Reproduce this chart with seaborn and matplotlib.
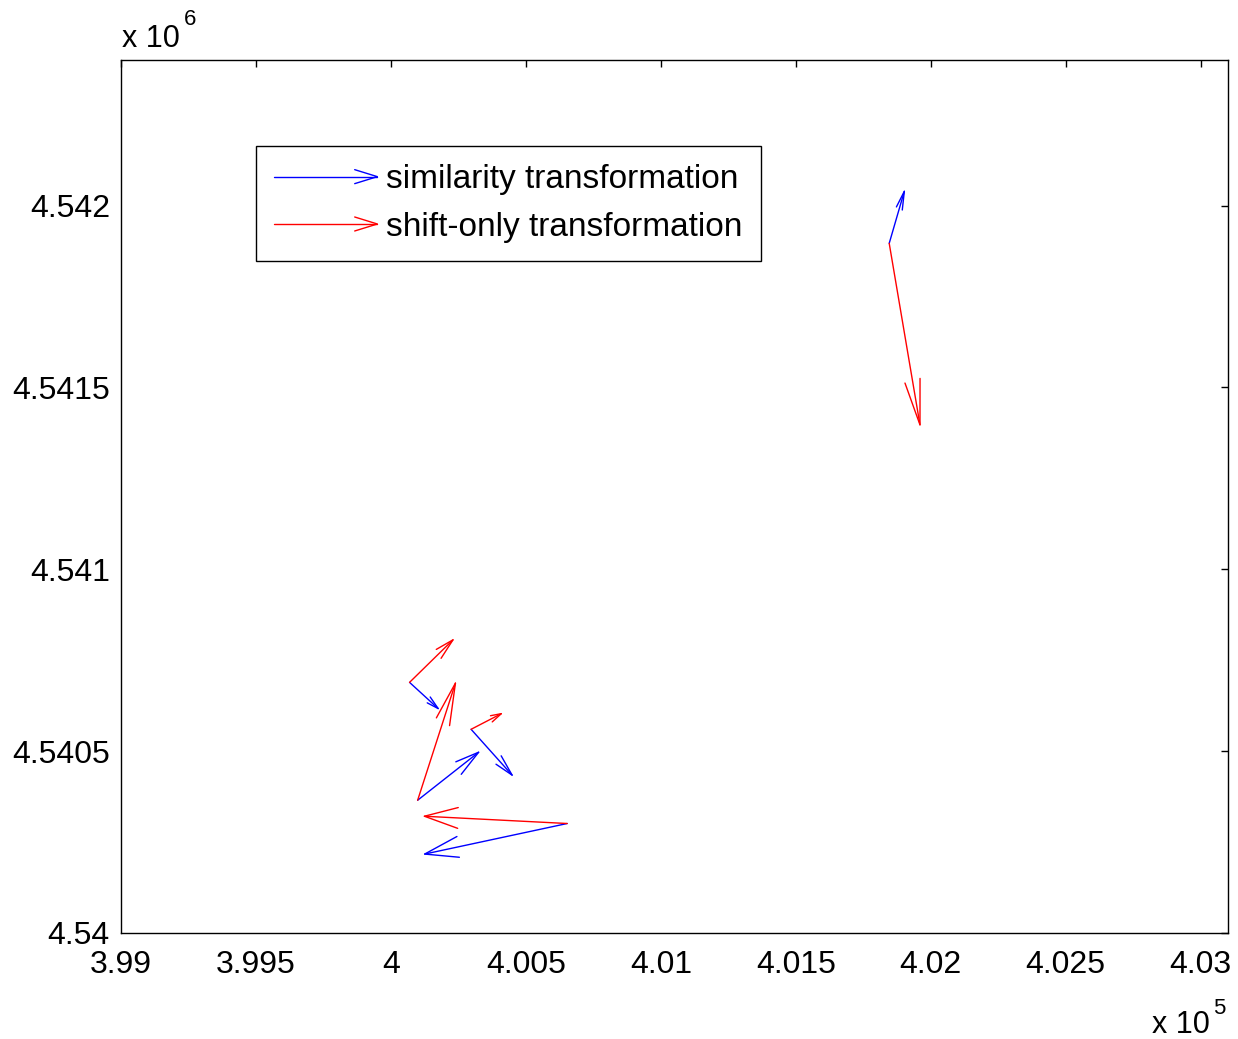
import numpy as np
import pandas as pd
import matplotlib
matplotlib.use("Agg")
import matplotlib.pyplot as plt
import seaborn as sns
from matplotlib.lines import Line2D
from matplotlib.legend_handler import HandlerBase

# start points of the residual vectors (easting / northing, metres)
x0 = [400069, 400099, 400297, 400653, 401846]
y0 = [4540689, 4540365, 4540560, 4540301, 4541896]

# similarity transformation residuals
u_sim = [106, 226, 152, -528, 56]
v_sim = [-72, 132, -126, -84, 143]

# shift-only transformation residuals
u_shift = [161, 140, 112, -529, 114]
v_shift = [117, 322, 43, 20, -499]

series_names = ["similarity transformation", "shift-only transformation"]
series_colors = ["blue", "red"]

x_ticks = [399000, 399500, 400000, 400500, 401000, 401500, 402000, 402500, 403000]
x_tick_labels = ["3.99", "3.995", "4", "4.005", "4.01", "4.015", "4.02", "4.025", "4.03"]
y_ticks = [4540000, 4540500, 4541000, 4541500, 4542000]
y_tick_labels = ["4.54", "4.5405", "4.541", "4.5415", "4.542"]


def quiver_rows(name, x, y, u, v):
    # matlab style quiver: shaft + open head, head built in data units
    x, y, u, v = (np.asarray(a, dtype=float) for a in (x, y, u, v))
    L = np.hypot(u, v)
    s = np.minimum(0.33, 0.235 * L.max() / L)
    b = 0.23
    tx, ty = x + u, y + v
    rows = []
    for i in range(len(x)):
        rows.append((name, f"{name}-{i}-s", x[i], y[i]))
        rows.append((name, f"{name}-{i}-s", tx[i], ty[i]))
        rows.append((name, f"{name}-{i}-h", tx[i] - s[i] * (u[i] + b * v[i]), ty[i] - s[i] * (v[i] - b * u[i])))
        rows.append((name, f"{name}-{i}-h", tx[i], ty[i]))
        rows.append((name, f"{name}-{i}-h", tx[i] - s[i] * (u[i] - b * v[i]), ty[i] - s[i] * (v[i] + b * u[i])))
    return rows


rows = quiver_rows(series_names[0], x0, y0, u_sim, v_sim) + quiver_rows(series_names[1], x0, y0, u_shift, v_shift)
df = pd.DataFrame(rows, columns=["series", "seg", "x", "y"])


class ArrowHandler(HandlerBase):
    def create_artists(self, legend, orig_handle, xdescent, ydescent, width, height, fontsize, trans):
        y = height / 2 - ydescent
        x1 = width - xdescent
        hl, hw = 0.22 * width, 0.3 * height
        c = orig_handle.get_color()
        shaft = Line2D([-xdescent, x1], [y, y], color=c, lw=1.0, transform=trans)
        head = Line2D([x1 - hl, x1, x1 - hl], [y + hw, y, y - hw], color=c, lw=1.0, transform=trans)
        return [shaft, head]


sns.set_style("white")
plt.rcParams["font.family"] = ["Liberation Sans", "DejaVu Sans"]
plt.rcParams["text.color"] = "black"

fig = plt.figure(figsize=(12.38, 10.39), dpi=100)
ax = fig.add_axes([121 / 1238, 1 - 933 / 1039, (1227.7 - 121) / 1238, 873 / 1039])

sns.lineplot(data=df, x="x", y="y", hue="series", units="seg", estimator=None, sort=False,
             palette=dict(zip(series_names, series_colors)), lw=1.0, legend=False, ax=ax)

ax.set_xlim(399000, 403100)
ax.set_ylim(4540000, 4542400)
ax.set_xticks(x_ticks)
ax.set_xticklabels(x_tick_labels)
ax.set_yticks(y_ticks)
ax.set_yticklabels(y_tick_labels)
ax.set_xlabel("")
ax.set_ylabel("")
ax.tick_params(axis="both", direction="in", length=5, width=1, top=True, right=True,
               labelsize=23, colors="black")
ax.tick_params(axis="x", pad=12.5)
ax.tick_params(axis="y", pad=8)
for sp in ax.spines.values():
    sp.set_visible(True)
    sp.set_color("black")
    sp.set_linewidth(1.0)

handles = [Line2D([], [], color=c) for c in series_colors]
leg = ax.legend(handles, series_names, handler_map={Line2D: ArrowHandler()},
                loc="upper left", bbox_to_anchor=(0.122, 0.9015), borderaxespad=0,
                fontsize=24, handlelength=3.09, handletextpad=0.27, borderpad=0.55,
                labelspacing=0.49, fancybox=False, framealpha=1, edgecolor="black")
leg.get_frame().set_linewidth(1.0)
for t in leg.get_texts():
    t.set_color("black")

# axis exponent labels, matlab style
fig.text(121.7 / 1238, 1 - 47.3 / 1039, "x 10", fontsize=22, va="baseline", ha="left")
fig.text(184 / 1238, 1 - 25 / 1039, "6", fontsize=16, va="baseline", ha="left")
fig.text(1152 / 1238, 1 - 1033 / 1039, "x 10", fontsize=22, va="baseline", ha="left")
fig.text(1213 / 1238, 1 - 1014 / 1039, "5", fontsize=16, va="baseline", ha="left")

fig.savefig("out.png", dpi=100)
